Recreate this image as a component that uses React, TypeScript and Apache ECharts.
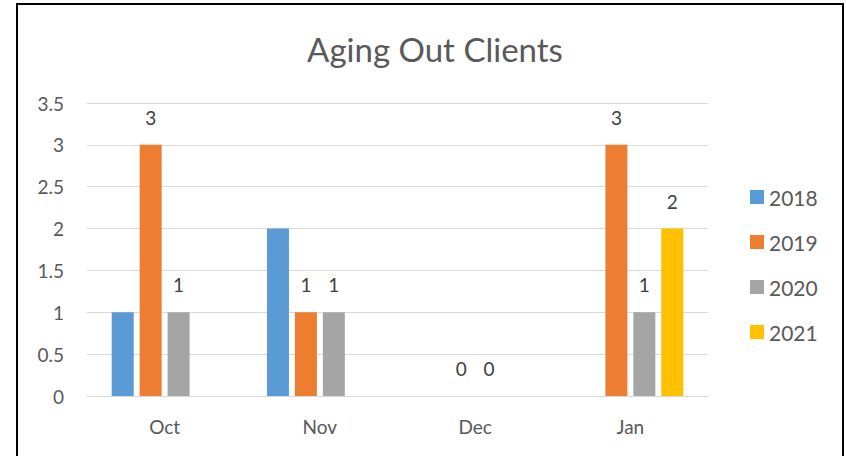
import React, { useEffect, useRef } from "react";
import * as echarts from "echarts";

const title = "Aging Out Clients";
const categories = ["Oct", "Nov", "Dec", "Jan"];
const seriesNames = ["2018", "2019", "2020", "2021"];
const values2018: (number | null)[] = [1, 2, null, null];
const values2019: (number | null)[] = [3, 1, 0, 3];
const values2020: (number | null)[] = [1, 1, 0, 1];
const values2021: (number | null)[] = [null, null, null, 2];
const showLabels = [false, true, true, true];
const colors = ["#5b9bd5", "#ed7d31", "#a5a5a5", "#ffc000"];

const FONT = "Lato, 'Open Sans', sans-serif";

export default function App() {
  const ref = useRef<HTMLDivElement>(null);
  useEffect(() => {
    if (!ref.current) return;
    const chart = echarts.init(ref.current, undefined, { renderer: "svg" });
    const data = [values2018, values2019, values2020, values2021];
    chart.setOption({
      animation: false,
      backgroundColor: "#ffffff",
      textStyle: { fontFamily: FONT },
      title: {
        text: title,
        left: 430,
        textAlign: "center",
        top: 27,
        textStyle: { fontFamily: FONT, fontSize: 33, fontWeight: "normal", color: "#595959" },
      },
      graphic: [
        {
          type: "rect",
          shape: { x: 17, y: 4, width: 826, height: 470 },
          style: { fill: "none", stroke: "#000000", lineWidth: 2 },
          silent: true,
        },
      ],
      legend: {
        orient: "vertical",
        left: 745,
        top: 181,
        itemWidth: 14,
        itemHeight: 14,
        itemGap: 23,
        icon: "rect",
        textStyle: { fontFamily: FONT, fontSize: 21, color: "#595959", lineHeight: 22, padding: [0, 0, 0, 0] },
        data: seriesNames,
      },
      grid: { left: 87, right: 138, top: 103, bottom: 60, containLabel: false },
      xAxis: {
        type: "category",
        data: categories,
        axisLine: { show: true, lineStyle: { color: "#d9d9d9", width: 1 } },
        axisTick: { show: false },
        axisLabel: { fontFamily: FONT, fontSize: 19, color: "#595959", margin: 21 },
      },
      yAxis: {
        type: "value",
        min: 0,
        max: 3.5,
        interval: 0.5,
        axisLine: { show: false },
        axisTick: { show: false },
        splitLine: { lineStyle: { color: "#d9d9d9", width: 1 } },
        axisLabel: { fontFamily: FONT, fontSize: 19, color: "#595959", margin: 23 },
      },
      series: seriesNames.map((name, i) => ({
        name,
        type: "bar",
        data: data[i],
        barWidth: 22,
        barGap: "27%",
        itemStyle: { color: colors[i] },
        label: {
          show: showLabels[i],
          position: "top",
          distance: 18,
          fontFamily: FONT,
          fontSize: 19,
          color: "#404040",
        },
      })),
    });
    return () => chart.dispose();
  }, []);
  return (
    <div
      ref={ref}
      style={{ position: "absolute", left: 0, top: 0, width: 846, height: 456 }}
    />
  );
}
